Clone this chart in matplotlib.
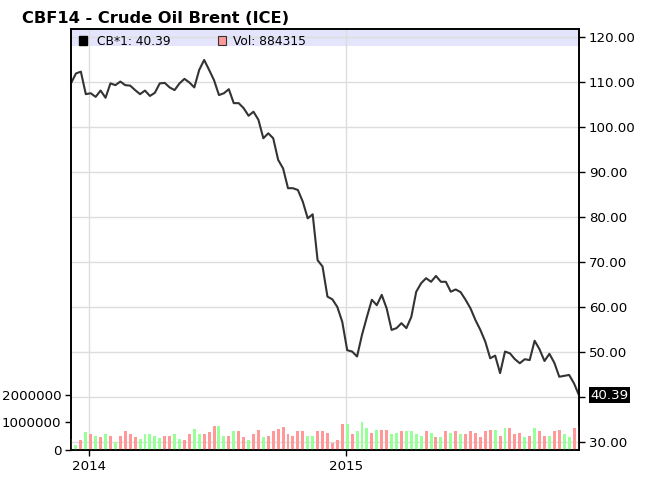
import matplotlib
matplotlib.use('Agg')
import matplotlib.pyplot as plt
import matplotlib.dates as mdates
import matplotlib.transforms as mtransforms
from matplotlib.patches import Rectangle
import pandas as pd

title = 'CBF14 - Crude Oil Brent (ICE)'
symbol = 'CB*1'

# weekly closes, Dec 2013 - Nov 2015
price = [
    109.7, 111.9, 112.3, 107.3, 107.5, 106.7, 108.1, 106.5, 109.7, 109.3,
    110.1, 109.3, 109.2, 108.2, 107.3, 108.1, 106.9, 107.6, 109.7, 109.8,
    108.8, 108.2, 109.7, 110.7, 109.9, 108.8, 112.7, 114.9, 112.7, 110.4,
    107.1, 107.5, 108.4, 105.3, 105.3, 104.2, 102.5, 103.4, 101.6, 97.5,
    98.6, 97.5, 92.7, 90.8, 86.4, 86.4, 86.0, 83.4, 79.7, 80.6,
    70.4, 69.0, 62.3, 61.7, 60.0, 56.7, 50.4, 50.1, 49.0, 53.8,
    57.8, 61.6, 60.4, 62.7, 59.7, 54.9, 55.3, 56.4, 55.3, 57.8,
    63.4, 65.3, 66.4, 65.6, 66.9, 65.6, 65.6, 63.4, 63.9, 63.3,
    61.6, 59.7, 57.1, 54.9, 52.3, 48.6, 49.2, 45.3, 50.1, 49.7,
    48.4, 47.5, 48.4, 48.2, 52.5, 50.6, 48.0, 49.6, 47.6, 44.5,
    44.7, 44.9, 43.0, 40.39,
]

volume = [
    410000, 190000, 350000, 640000, 570000, 520000, 460000, 580000, 520000, 300000,
    520000, 680000, 590000, 470000, 410000, 570000, 570000, 520000, 420000, 520000,
    520000, 570000, 410000, 350000, 570000, 780000, 570000, 570000, 640000, 890000,
    890000, 520000, 520000, 680000, 680000, 460000, 350000, 570000, 730000, 460000,
    520000, 680000, 780000, 840000, 570000, 520000, 680000, 680000, 520000, 520000,
    680000, 680000, 610000, 250000, 350000, 960000, 960000, 570000, 680000, 1010000,
    790000, 610000, 730000, 730000, 730000, 570000, 610000, 680000, 680000, 680000,
    570000, 520000, 680000, 610000, 460000, 460000, 680000, 610000, 680000, 570000,
    570000, 680000, 610000, 460000, 680000, 730000, 730000, 520000, 790000, 790000,
    570000, 610000, 460000, 520000, 790000, 680000, 520000, 520000, 680000, 730000,
    570000, 460000, 790000, 884315,
]

# g = up week, r = down week
vol_dir = list(
    'ggrgrgrgrg' 'rrrrgggggr' 'rggrrggrrr' 'ggrgrrgrrg' 'rrrrrrrrgg' 'rr'
    'rrrrgrgggr' 'grrggrgggg' 'rgrgrgrgrr' 'rrrrgrgrrr' 'grgrrgrrgg' 'rr'
)

dates = pd.date_range('2013-12-06', periods=len(price), freq='7D')
year_ticks = ['2014-01-01', '2015-01-01']
year_labels = ['2014', '2015']
price_ticks = [30, 40, 50, 60, 70, 80, 90, 100, 110, 120]
vol_ticks = [0, 1000000, 2000000]

bar_colors = {'g': '#99ff99', 'r': '#ff9999'}

fig = plt.figure(figsize=(6.5, 4.83), dpi=100)
ax = fig.add_axes([71 / 650, 33 / 483, 508 / 650, 421 / 483])
axv = ax.twinx()
ax.yaxis.tick_right()
axv.yaxis.tick_left()

x = mdates.date2num(dates)
ax.plot(x, price, color='#333333', linewidth=1.5, zorder=3)
axv.bar(x, volume, width=4.2, color=[bar_colors[c] for c in vol_dir],
        linewidth=0)

ax.set_xlim(x[0], x[-1])
ax.set_ylim(28.22, 121.78)
axv.set_ylim(0, 15.3e6)

ax.set_xticks(mdates.date2num(pd.to_datetime(year_ticks)))
ax.set_xticklabels(year_labels)
ax.set_yticks(price_ticks)
ax.set_yticklabels(['' if t == 40 else '%.2f' % t for t in price_ticks])
axv.set_yticks(vol_ticks)
axv.set_yticklabels(['%d' % v for v in vol_ticks])

ax.grid(True, color='#dddddd', linewidth=1)
ax.set_axisbelow(True)

for a in (ax, axv):
    a.tick_params(direction='out', length=4, width=1, labelsize=9.6,
                  pad=3, colors='black')
    for s in a.spines.values():
        s.set_color('black')
        s.set_linewidth(1.2)

# legend band at top of plot
ax.add_patch(Rectangle((0, 0.96), 1, 0.04, transform=ax.transAxes,
                       facecolor='#e4e4fc', edgecolor='none', zorder=0.2))
fig.add_artist(Rectangle((79 / 650, 1 - 45 / 483), 8 / 650, 9 / 483,
                         transform=fig.transFigure, facecolor='black',
                         edgecolor='black'))
fig.text(97 / 650, 1 - 45 / 483, '%s: %.2f' % (symbol, price[-1]),
         fontsize=8.8, va='baseline')
fig.add_artist(Rectangle((218 / 650, 1 - 45 / 483), 8 / 650, 9 / 483,
                         transform=fig.transFigure, facecolor='#ff9999',
                         edgecolor='#333333', linewidth=0.8))
fig.text(233 / 650, 1 - 45 / 483, 'Vol: %d' % volume[-1],
         fontsize=8.8, va='baseline')

# last value tag on the right axis
trans = mtransforms.blended_transform_factory(ax.transAxes, ax.transData)
ax.text(1 + 11 / 508, price[-1], '%.2f' % price[-1], transform=trans,
        color='white', fontsize=9.6, va='center', ha='left', clip_on=False,
        bbox=dict(facecolor='black', edgecolor='none', pad=1))

fig.text(22 / 650, 1 - 23 / 483, title, fontsize=11.7, fontweight='bold',
         va='baseline')

fig.savefig('out.png', dpi=100)
